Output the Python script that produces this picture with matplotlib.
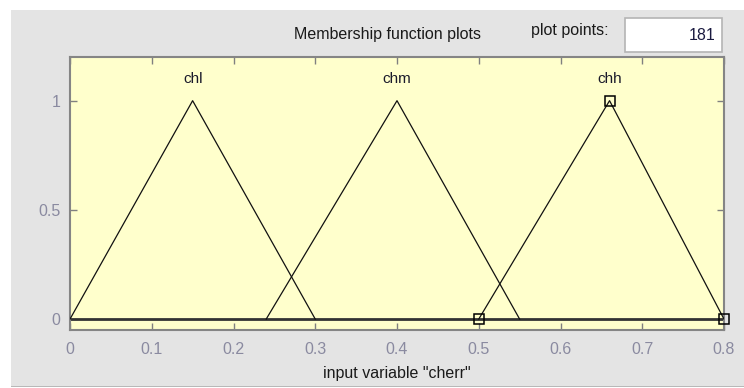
import numpy as np
import matplotlib
matplotlib.use('Agg')
import matplotlib.pyplot as plt
from matplotlib.patches import Rectangle

plt.rcParams['font.family'] = ['Liberation Sans', 'DejaVu Sans']

# membership functions (trimf parameters)
mf_names  = ['chl', 'chm', 'chh']
mf_params = [[0.0, 0.15, 0.30],
             [0.24, 0.40, 0.55],
             [0.50, 0.66, 0.80]]
mf_levels = [0.0, 1.0, 0.0]
selected  = 'chh'

x_range   = [0.0, 0.8]
x_ticks   = [0, 0.1, 0.2, 0.3, 0.4, 0.5, 0.6, 0.7, 0.8]
x_ticklab = ['0', '0.1', '0.2', '0.3', '0.4', '0.5', '0.6', '0.7', '0.8']
y_ticks   = [0, 0.5, 1]
y_ticklab = ['0', '0.5', '1']
var_name  = 'cherr'
plot_points = 181

W, H = 744, 388
fig = plt.figure(figsize=(W/100., H/100.), dpi=100)
fig.patch.set_facecolor('white')

# gray panel (background axes)
bg = fig.add_axes([0, 0, 1, 1])
bg.set_xlim(0, W)
bg.set_ylim(H, 0)
bg.axis('off')
bg.set_zorder(0)
bg.add_patch(Rectangle((11, 10), W-11, 376, facecolor='#e4e4e4', edgecolor='none'))
bg.add_patch(Rectangle((11, 385.5), W-11, 1.5, facecolor='#b8b8b8', edgecolor='none'))
bg.add_patch(Rectangle((625, 18), 97, 34, facecolor='white', edgecolor='#b4b4b4', lw=1.2))

# header
bg.text(387, 34, 'Membership function plots', ha='center', va='center',
        fontsize=11.5, color='#1a1a1a')
bg.text(570, 30, 'plot points:', ha='center', va='center',
        fontsize=11.5, color='#1a1a1a')
bg.text(716, 35, str(plot_points), ha='right', va='center',
        fontsize=11.5, color='#1a1a40')

ax = fig.add_axes([70./W, 58./H, 654./W, 273./H])
ax.set_zorder(2)
ax.set_facecolor('#ffffcc')

# baseline across the full range
ax.plot(x_range, [0, 0], '-', color='#333333', lw=2.0, zorder=2)

for name, p in zip(mf_names, mf_params):
    ax.plot(p, mf_levels, '-', color='#111111', lw=0.9, zorder=3)
    ax.text(p[1], 1.065, name, ha='center', va='bottom', fontsize=11, color='#1a1a2a')
    if name == selected:
        ax.plot(p, mf_levels, 's', ms=7, mfc='none', mec='black', mew=1.1,
                zorder=4, clip_on=False)

ax.set_xlim(x_range)
ax.set_ylim(-0.05, 1.2)
ax.set_xticks(x_ticks)
ax.set_xticklabels(x_ticklab)
ax.set_yticks(y_ticks)
ax.set_yticklabels(y_ticklab)
ax.tick_params(direction='in', length=5, width=1, color='#808080', labelcolor='#8a8aa0',
               labelsize=11.5, top=True, right=True)
ax.tick_params(axis='x', pad=9)
ax.tick_params(axis='y', pad=7)
for s in ax.spines.values():
    s.set_color('#858585')
    s.set_linewidth(1.5)
ax.set_xlabel('input variable "%s"' % var_name, fontsize=11.5, color='#1a1a1a', labelpad=6)

fig.savefig('out.png', dpi=100, facecolor=fig.get_facecolor())
